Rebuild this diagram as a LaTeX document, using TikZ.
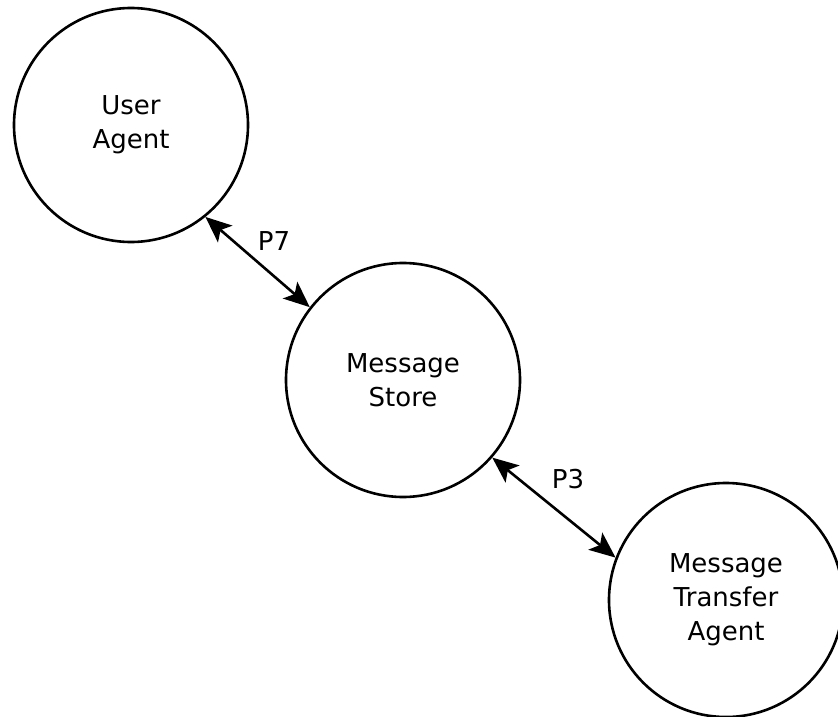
\documentclass[tikz,border=0pt]{standalone}
\usepackage{fontspec}
\setmainfont{DejaVu Sans}
\usetikzlibrary{arrows.meta}
\begin{document}
\begin{tikzpicture}[x=1pt,y=-1pt,
  proc/.style={circle,draw,line width=2.6pt,minimum size=234pt,inner sep=0pt,align=center,
    font=\fontsize{26}{34}\selectfont},
  link/.style={line width=2.6pt,{Stealth[length=26pt,width=22pt,inset=6pt]}-{Stealth[length=26pt,width=22pt,inset=6pt]}},
  lbl/.style={font=\fontsize{26}{30}\selectfont,inner sep=0pt}]
\useasboundingbox[fill=white] (0,0) rectangle (838,717);
\node[proc] (ua) at (131,125) {User\\Agent};
\node[proc] (ms) at (403,380) {Message\\Store};
\node[proc] (mta) at (726,600) {Message\\Transfer\\Agent};
\draw[link] (ua.-51) -- (ms.142);
\draw[link] (ms.-41) -- (mta.159);
\node[lbl] (p7) at (274,241) {P7};
\node[lbl] (p3) at (568,479) {P3};
\end{tikzpicture}
\end{document}
